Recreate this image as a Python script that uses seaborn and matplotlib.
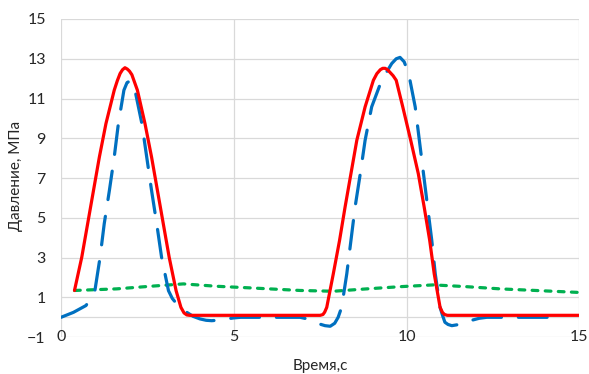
import matplotlib
matplotlib.use("Agg")
import matplotlib.pyplot as plt
import seaborn as sns

# red: solid curve
red_x = [0.39, 0.60, 0.77, 0.94, 1.11, 1.30, 1.54, 1.63, 1.71, 1.78, 1.85, 1.92, 1.98, 2.05,
         2.21, 2.43, 2.62, 2.79, 2.96, 3.13, 3.33, 3.47, 3.56, 3.64, 3.72,
         7.50, 7.58, 7.63, 7.69, 7.88, 8.06, 8.22, 8.39, 8.56, 8.80, 9.04, 9.14, 9.24, 9.31,
         9.38, 9.45, 9.53, 9.61, 9.70, 9.89, 10.12, 10.34, 10.51, 10.67, 10.80, 10.97, 11.04,
         11.10, 11.18, 15.0]
red_y = [1.35, 3.02, 4.70, 6.38, 8.06, 9.74, 11.42, 11.90, 12.26, 12.45, 12.55, 12.48, 12.38,
         12.20, 11.42, 9.74, 8.06, 6.38, 4.70, 3.02, 1.34, 0.50, 0.22, 0.12, 0.10,
         0.10, 0.14, 0.26, 0.50, 2.19, 3.86, 5.54, 7.22, 8.90, 10.58, 11.92, 12.25, 12.45, 12.52,
         12.52, 12.45, 12.30, 12.15, 11.92, 10.58, 8.90, 7.22, 5.54, 3.86, 2.19, 0.50, 0.24,
         0.14, 0.10, 0.10]

# blue: long dashes
blue_x = [0.0, 0.36, 0.72, 0.85, 0.98, 1.13, 1.25, 1.40, 1.54, 1.66, 1.82, 1.91, 2.00, 2.07,
          2.14, 2.34, 2.48, 2.62, 2.77, 2.91, 3.11, 3.22, 3.35, 3.50, 3.64, 3.82, 4.02, 4.20,
          4.36, 4.58, 4.80, 5.00, 5.20, 6.45, 6.92, 7.10, 7.26, 7.45, 7.64, 7.79, 7.92, 8.02,
          8.12, 8.27, 8.39, 8.51, 8.66, 8.80, 8.99, 9.28, 9.57, 9.70, 9.81, 9.93, 10.06, 10.25,
          10.37, 10.49, 10.61, 10.73, 10.83, 10.97, 11.04, 11.11, 11.20, 11.31, 11.55, 11.84,
          12.10, 12.32, 14.1]
blue_y = [0.0, 0.25, 0.59, 0.90, 1.34, 3.02, 4.70, 6.38, 8.06, 9.74, 11.42, 11.80, 11.89, 11.75,
          11.42, 9.74, 8.06, 6.38, 4.70, 3.02, 1.34, 0.95, 0.67, 0.42, 0.25, 0.05, -0.08, -0.15,
          -0.17, -0.14, -0.08, -0.03, 0.0, 0.0, 0.0, -0.07, -0.17, -0.32, -0.42, -0.45, -0.30, 0.0,
          0.50, 2.19, 3.86, 5.54, 7.22, 8.90, 10.58, 11.92, 12.76, 13.00, 13.07, 12.85, 12.26,
          10.58, 8.90, 7.22, 5.54, 3.86, 2.19, 0.50, 0.10, -0.25, -0.36, -0.42, -0.35, -0.17,
          -0.05, 0.0, 0.0]

# green: short dashes
green_x = [0.39, 1.61, 2.58, 3.54, 4.51, 5.47, 6.92, 7.88, 8.85, 9.81, 10.78, 11.74, 12.71, 15.0]
green_y = [1.35, 1.43, 1.56, 1.68, 1.56, 1.48, 1.35, 1.31, 1.43, 1.54, 1.63, 1.54, 1.43, 1.25]

x_ticks = [0, 5, 10, 15]
y_ticks = [-1, 1, 3, 5, 7, 9, 11, 13, 15]

sns.set_style("white")
plt.rcParams["font.family"] = ["Lato", "DejaVu Sans"]

fig = plt.figure(figsize=(5.89, 3.74), dpi=100)
ax = fig.add_axes([0.1036, 0.0984, 0.880, 0.8508])

grid_col = "#d9d9d9"
for xv in x_ticks:
    ax.axvline(xv, color=grid_col, lw=0.9, zorder=0)
for yv in y_ticks:
    ax.axhline(yv, color=grid_col, lw=0.9, zorder=0)
ax.axhline(0, color=grid_col, lw=0.9, zorder=0)

sns.lineplot(x=green_x, y=green_y, ax=ax, color="#00b050", lw=2.3, estimator=None, sort=False,
             zorder=2)
ax.lines[-1].set_dashes((1.8, 2.3))
ax.lines[-1].set_dash_capstyle("round")

sns.lineplot(x=blue_x, y=blue_y, ax=ax, color="#0070c0", lw=2.3, estimator=None, sort=False,
             zorder=3)
ax.lines[-1].set_dashes((9, 5.3))
ax.lines[-1].set_dash_capstyle("round")
ax.lines[-1].set_solid_joinstyle("round")

sns.lineplot(x=red_x, y=red_y, ax=ax, color="#ff0000", lw=2.3, estimator=None, sort=False,
             zorder=4)
ax.lines[-1].set_solid_joinstyle("round")

ax.set_xlim(0, 15)
ax.set_ylim(-1, 15)
ax.set_xticks(x_ticks)
ax.set_yticks(y_ticks)
for s in ax.spines.values():
    s.set_visible(False)
ax.tick_params(axis="both", length=0, labelsize=11.5, colors="#262626")
ax.tick_params(axis="x", pad=-5)
ax.tick_params(axis="y", pad=11)

ax.set_xlabel("Время,с", fontsize=11, color="#262626")
ax.set_ylabel("Давление, МПа", fontsize=11, color="#262626")
ax.xaxis.set_label_coords(0.5, -0.068)
ax.yaxis.set_label_coords(-0.073, 0.507)

fig.savefig("out.png", dpi=100)
